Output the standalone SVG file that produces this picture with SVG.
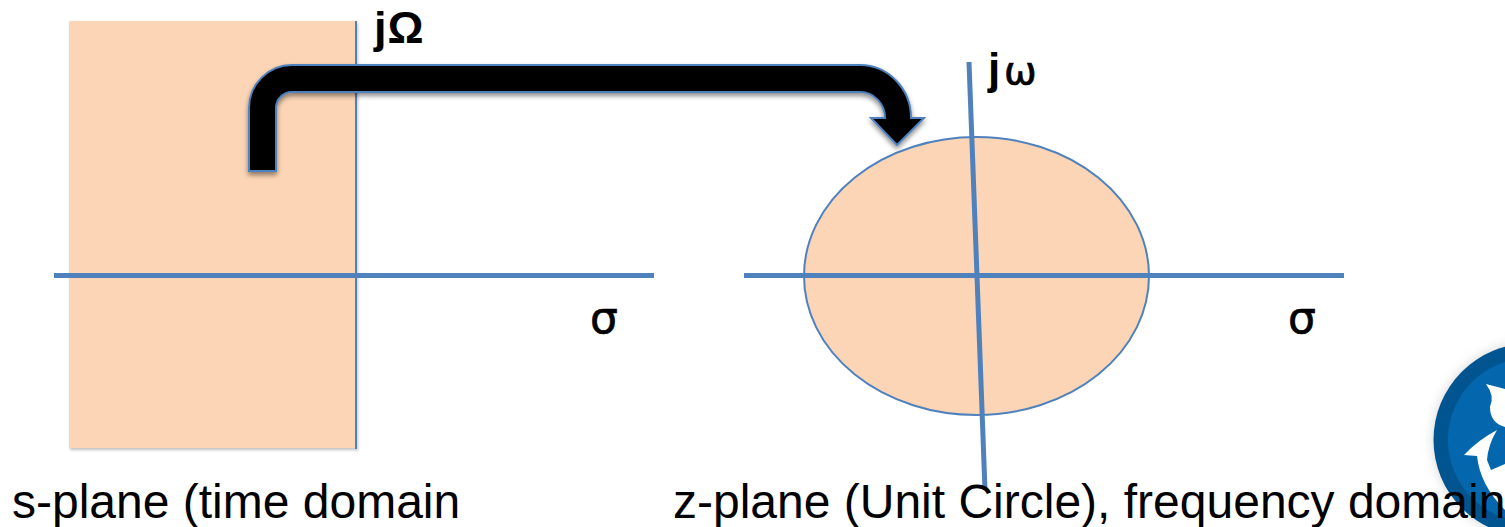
<svg xmlns="http://www.w3.org/2000/svg" width="1505" height="527" viewBox="0 0 1505 527">
<style>
.axis{fill:none;stroke:#4f81bd;stroke-width:5}
.shape{fill:#fbd5b5;stroke:#4f81bd;stroke-width:2}
.lbl{font-family:"Liberation Sans",Arial,sans-serif;font-size:48px;fill:#000}
.bold{font-family:"Liberation Sans",Arial,sans-serif;font-weight:bold;fill:#000}
.greek{font-family:"DejaVu Sans",sans-serif;font-weight:normal;fill:#000;stroke:#000;stroke-width:0.7px}
</style>
<defs>
<filter id="sh" x="-10%" y="-10%" width="120%" height="125%"><feGaussianBlur in="SourceAlpha" stdDeviation="2.500"/><feOffset dy="3" dx="0"/><feComponentTransfer><feFuncA type="linear" slope="0.45"/></feComponentTransfer><feMerge><feMergeNode/><feMergeNode in="SourceGraphic"/></feMerge></filter>
<filter id="soft" x="-5%" y="-5%" width="110%" height="110%"><feGaussianBlur in="SourceAlpha" stdDeviation="1.500"/><feOffset dy="2" dx="1"/><feComponentTransfer><feFuncA type="linear" slope="0.25"/></feComponentTransfer><feMerge><feMergeNode/><feMergeNode in="SourceGraphic"/></feMerge></filter>
<filter id="logoShadow" x="-30%" y="-30%" width="160%" height="160%"><feGaussianBlur stdDeviation="6"/></filter>
</defs>
<g id="s-plane-region" filter="url(#soft)">
<rect x="69" y="21" width="287" height="427" fill="#fbd5b5"/>
<path d="M356 21V449" fill="none" stroke="#4f81bd" stroke-width="2"/>
</g>
<g id="z-plane-circle"><ellipse class="shape" cx="976.500" cy="276" rx="172.500" ry="139"/></g>
<g id="connectors">
<path class="axis" d="M54 275.500H654"/>
<path class="axis" d="M744 275.500H1344"/>
<path class="axis" d="M969 62L985 490"/>
</g>
<g id="arrow"><path filter="url(#sh)" d="M249 171V108A43 43 0 0 1 292 65H860A51 53 0 0 1 911 118H924L897 145L871 118H885A25 26 0 0 0 860 92H292A16 16 0 0 0 276 108V171Z" fill="#000" stroke="#4f81bd" stroke-width="2"/></g>
<g id="logo">
<circle cx="1530" cy="440" r="96.500" fill="#888" opacity="0.35" filter="url(#logoShadow)"/>
<circle cx="1530" cy="440" r="96.500" fill="#00548f"/>
<circle cx="1530" cy="440" r="82" fill="#0467ae"/>
<path d="M1486 384L1505 389V427Q1490 423 1490 407Q1495 396 1486 384Z" fill="#fff"/>
<path d="M1497 430Q1478 440 1464 455L1477 456Q1480 485 1505 510V464L1491 470L1487 460Q1488 445 1497 430Z" fill="#fff"/>
</g>
<g id="labels">
<text class="bold" x="374" y="43" font-size="45">j<tspan dx="1">Ω</tspan></text>
<text class="bold" x="988" y="84" font-size="44">j</text>
<text class="greek" x="1004" y="84" font-size="39">ω</text>
<text class="greek" x="590" y="333" font-size="44">σ</text>
<text class="greek" x="1288" y="333" font-size="44">σ</text>
<text class="lbl" x="12" y="517.500">s-plane (time domain</text>
<text class="lbl" x="673" y="517.500">z-plane (Unit Circle), frequency domain</text>
</g>
</svg>
